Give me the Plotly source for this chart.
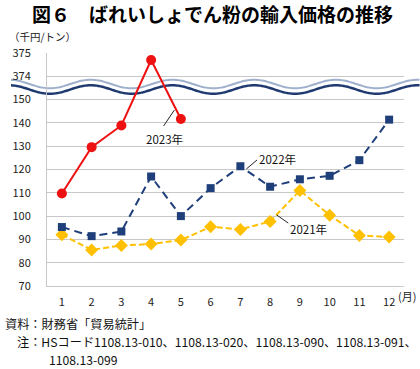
import numpy as np
import plotly.graph_objects as go

months = [1, 2, 3, 4, 5, 6, 7, 8, 9, 10, 11, 12]
month_labels = [str(m) for m in months]
y2021 = [92.0, 85.5, 87.4, 88.0, 89.7, 95.4, 94.3, 97.7, 111.0, 100.4, 91.7, 91.0]
y2022 = [95.3, 91.4, 93.4, 117.0, 100.0, 112.0, 121.4, 112.6, 115.8, 117.3, 124.0, 141.4]
y2023_months = [1, 2, 3, 4, 5]
y2023 = [109.7, 129.6, 138.9, 374.7, 141.7]

ytick_vals = [70, 80, 90, 100, 110, 120, 130, 140, 150, 160, 170]
ytick_text = ["70", "80", "90", "100", "110", "120", "130", "140", "150", "374", "375"]

FONT = "Noto Sans CJK JP"


def brk(v):
    # broken axis: values >= 374 are drawn in the top band (374 -> 160, 375 -> 170)
    return 160 + (v - 374) * 10 if v >= 374 else v


W, H = 420, 369
ML, MR, MT, MB = 37, 16, 53, 83
PW, PH = W - ML - MR, H - MT - MB


def px2paper_x(px):
    return (px - ML) / PW


def py2paper_y(py):
    return (H - MB - py) / PH


fig = go.Figure()

fig.add_trace(go.Scatter(
    x=months, y=y2021, mode="lines+markers",
    line=dict(color="#ffc000", width=2, dash="6px,3px"),
    marker=dict(symbol="diamond", size=10, color="#ffc000"),
    showlegend=False, cliponaxis=False))
fig.add_trace(go.Scatter(
    x=months, y=y2022, mode="lines+markers",
    line=dict(color="#1f3f7a", width=2, dash="8px,5px"),
    marker=dict(symbol="square", size=8, color="#1f3f7a"),
    showlegend=False, cliponaxis=False))
fig.add_trace(go.Scatter(
    x=y2023_months, y=[brk(v) for v in y2023], mode="lines+markers",
    line=dict(color="#ee1111", width=2),
    marker=dict(symbol="circle", size=10, color="#ee1111"),
    showlegend=False, cliponaxis=False))

# decorative wave (axis break)
xs = np.linspace(0, W, 211)
def wave_path(offset):
    pts = []
    for i, x in enumerate(xs):
        py = 89.5 + offset + 4.3 * np.cos(2 * np.pi * (x - 40) / 84.0)
        pts.append(("M" if i == 0 else "L") + f"{px2paper_x(x):.5f},{py2paper_y(py):.5f}")
    return " ".join(pts)

shapes = [
    dict(type="path", path=wave_path(-2.8), xref="paper", yref="paper",
         line=dict(color="white", width=8), layer="between"),
    dict(type="path", path=wave_path(-5.5), xref="paper", yref="paper",
         line=dict(color="#9fb0cc", width=2), layer="between"),
    dict(type="path", path=wave_path(0), xref="paper", yref="paper",
         line=dict(color="#1f3a70", width=2.5), layer="between"),
]

# leader lines
for (x0, y0, x1, y1) in [(4.42, 138.7, 4.78, 145.5), (7.20, 120.2, 7.56, 124.1), (8.22, 100.5, 8.61, 97.0)]:
    shapes.append(dict(type="line", xref="x", yref="y", x0=x0, y0=y0, x1=x1, y1=y1,
                       line=dict(color="#222", width=1)))

annotations = [
    dict(text="2023年", x=4.46, y=133.3, xref="x", yref="y", showarrow=False,
         font=dict(size=11.5, color="#111", family=FONT)),
    dict(text="2022年", x=8.25, y=124.5, xref="x", yref="y", showarrow=False,
         font=dict(size=11.5, color="#111", family=FONT)),
    dict(text="2021年", x=9.30, y=94.6, xref="x", yref="y", showarrow=False,
         font=dict(size=11.5, color="#111", family=FONT)),
    dict(text="<b>図６　ばれいしょでん粉の輸入価格の推移</b>", x=px2paper_x(207), y=py2paper_y(14),
         xref="paper", yref="paper", showarrow=False,
         font=dict(size=19, color="#000", family=FONT),
         xanchor="center", yanchor="middle"),
    dict(text="（千円/トン）", x=px2paper_x(-4), y=py2paper_y(37), xref="paper", yref="paper",
         showarrow=False, xanchor="left", yanchor="middle",
         font=dict(size=10.5, color="#222", family=FONT)),
    dict(text="(月)", x=1.0, xshift=-8, y=py2paper_y(296), xref="paper", yref="paper",
         showarrow=False, xanchor="left", yanchor="middle",
         font=dict(size=11, color="#222", family=FONT)),
    dict(text="資料：財務省「貿易統計」", x=px2paper_x(-8), y=py2paper_y(324), xref="paper",
         yref="paper", showarrow=False, xanchor="left", yanchor="middle",
         font=dict(size=12.2, color="#111", family=FONT)),
    dict(text="注：HSコード1108.13-010、1108.13-020、1108.13-090、1108.13-091、",
         x=px2paper_x(4), y=py2paper_y(342), xref="paper", yref="paper",
         showarrow=False, xanchor="left", yanchor="middle",
         font=dict(size=12.2, color="#111", family=FONT)),
    dict(text="1108.13-099", x=px2paper_x(37), y=py2paper_y(360), xref="paper",
         yref="paper", showarrow=False, xanchor="left", yanchor="middle",
         font=dict(size=12.2, color="#111", family=FONT)),
]

fig.update_layout(
    width=W, height=H,
    margin=dict(l=ML, r=MR, t=MT, b=MB),
    paper_bgcolor="white", plot_bgcolor="white",
    shapes=shapes, annotations=annotations,
    font=dict(family=FONT, color="#222"),
    xaxis=dict(range=[0.5, 12.5], tickvals=months, ticktext=month_labels,
               showgrid=False, zeroline=False, showline=True, linecolor="#c8c8c8",
               linewidth=1, ticks="", tickfont=dict(size=11, color="#222"),
               ticklabelstandoff=6),
    yaxis=dict(range=[70, 170], tickvals=ytick_vals, ticktext=ytick_text,
               showgrid=True, gridcolor="#c8c8c8", gridwidth=1, zeroline=False,
               showline=True, linecolor="#c8c8c8", linewidth=1, ticks="",
               tickfont=dict(size=11, color="#222"), ticklabelstandoff=13),
)

fig.write_html("out.html", config={"displayModeBar": False},
               post_script="document.body.style.margin='0';document.body.style.padding='0';")
